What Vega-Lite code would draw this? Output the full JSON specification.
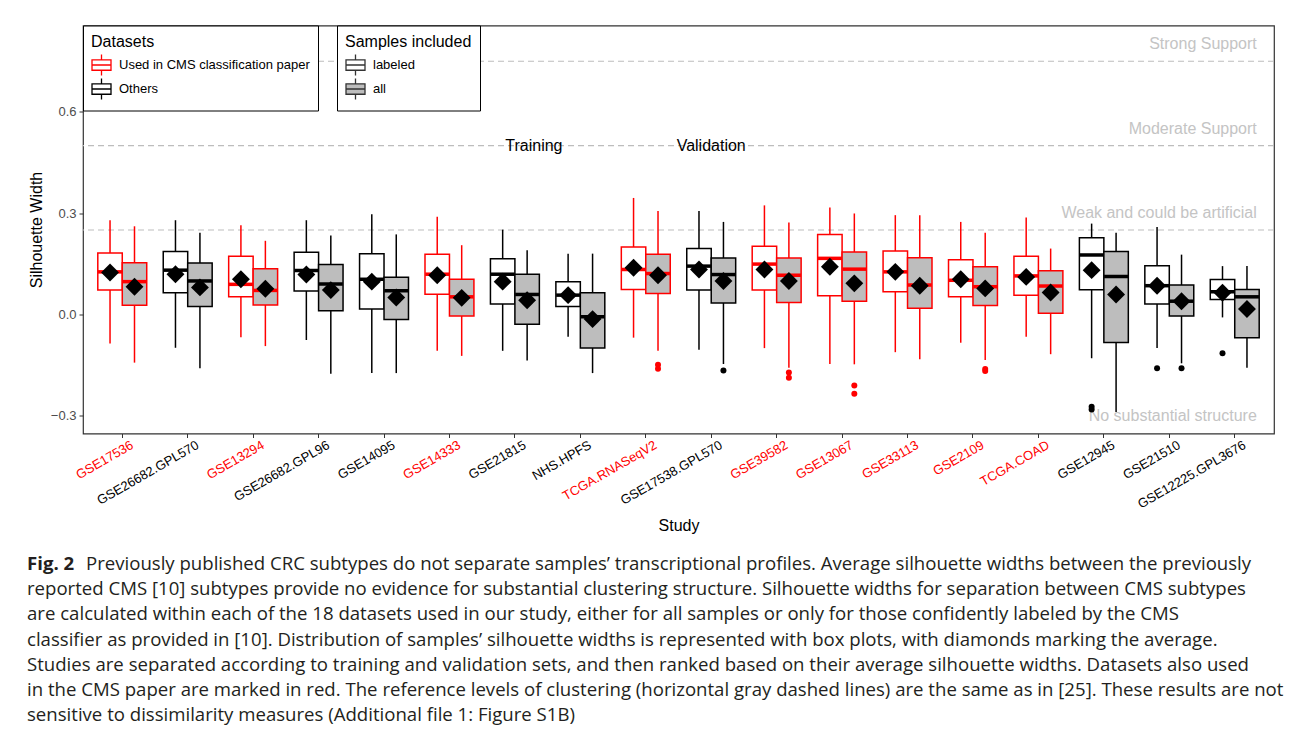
{
  "$schema": "https://vega.github.io/schema/vega-lite/v6.json",
  "padding": {"left": 27, "top": 23.5, "right": 0, "bottom": 0},
  "spacing": 17,
  "background": "white",
  "config": {
    "font": "Liberation Sans",
    "view": {"stroke": "#333333", "strokeWidth": 1.2},
    "axis": {"grid": false, "domain": false, "tickColor": "#333333", "tickSize": 4, "titleFontWeight": "normal", "titleFontSize": 16, "titleColor": "black", "labelFont": "Liberation Sans", "titleFont": "Liberation Sans"},
    "legend": {"titleFontWeight": "normal", "titleFont": "Liberation Sans", "labelFont": "Liberation Sans"}
  },
  "datasets": {
    "stats": [
      {"study": "GSE17536", "samples": "labeled", "cms": "Used in CMS classification paper", "lower": -0.086, "q1": 0.072, "median": 0.126, "q3": 0.182, "upper": 0.279, "mean": 0.124},
      {"study": "GSE17536", "samples": "all", "cms": "Used in CMS classification paper", "lower": -0.143, "q1": 0.027, "median": 0.097, "q3": 0.153, "upper": 0.261, "mean": 0.082},
      {"study": "GSE26682.GPL570", "samples": "labeled", "cms": "Others", "lower": -0.099, "q1": 0.064, "median": 0.131, "q3": 0.186, "upper": 0.279, "mean": 0.119},
      {"study": "GSE26682.GPL570", "samples": "all", "cms": "Others", "lower": -0.160, "q1": 0.023, "median": 0.099, "q3": 0.152, "upper": 0.242, "mean": 0.080},
      {"study": "GSE13294", "samples": "labeled", "cms": "Used in CMS classification paper", "lower": -0.068, "q1": 0.052, "median": 0.089, "q3": 0.172, "upper": 0.264, "mean": 0.104},
      {"study": "GSE13294", "samples": "all", "cms": "Used in CMS classification paper", "lower": -0.094, "q1": 0.028, "median": 0.071, "q3": 0.135, "upper": 0.218, "mean": 0.076},
      {"study": "GSE26682.GPL96", "samples": "labeled", "cms": "Others", "lower": -0.076, "q1": 0.069, "median": 0.130, "q3": 0.184, "upper": 0.279, "mean": 0.118},
      {"study": "GSE26682.GPL96", "samples": "all", "cms": "Others", "lower": -0.176, "q1": 0.011, "median": 0.090, "q3": 0.148, "upper": 0.234, "mean": 0.072},
      {"study": "GSE14095", "samples": "labeled", "cms": "Others", "lower": -0.174, "q1": 0.016, "median": 0.104, "q3": 0.180, "upper": 0.297, "mean": 0.097},
      {"study": "GSE14095", "samples": "all", "cms": "Others", "lower": -0.174, "q1": -0.015, "median": 0.070, "q3": 0.110, "upper": 0.237, "mean": 0.050},
      {"study": "GSE14333", "samples": "labeled", "cms": "Used in CMS classification paper", "lower": -0.108, "q1": 0.060, "median": 0.119, "q3": 0.178, "upper": 0.289, "mean": 0.116},
      {"study": "GSE14333", "samples": "all", "cms": "Used in CMS classification paper", "lower": -0.123, "q1": -0.005, "median": 0.052, "q3": 0.104, "upper": 0.205, "mean": 0.049},
      {"study": "GSE21815", "samples": "labeled", "cms": "Others", "lower": -0.108, "q1": 0.031, "median": 0.119, "q3": 0.165, "upper": 0.251, "mean": 0.097},
      {"study": "GSE21815", "samples": "all", "cms": "Others", "lower": -0.137, "q1": -0.029, "median": 0.059, "q3": 0.119, "upper": 0.190, "mean": 0.042},
      {"study": "NHS.HPFS", "samples": "labeled", "cms": "Others", "lower": -0.066, "q1": 0.023, "median": 0.057, "q3": 0.097, "upper": 0.180, "mean": 0.057},
      {"study": "NHS.HPFS", "samples": "all", "cms": "Others", "lower": -0.174, "q1": -0.100, "median": -0.007, "q3": 0.064, "upper": 0.180, "mean": -0.014},
      {"study": "TCGA.RNASeqV2", "samples": "labeled", "cms": "Used in CMS classification paper", "lower": -0.069, "q1": 0.074, "median": 0.133, "q3": 0.200, "upper": 0.345, "mean": 0.138},
      {"study": "TCGA.RNASeqV2", "samples": "all", "cms": "Used in CMS classification paper", "lower": -0.108, "q1": 0.062, "median": 0.121, "q3": 0.178, "upper": 0.306, "mean": 0.116},
      {"study": "GSE17538.GPL570", "samples": "labeled", "cms": "Others", "lower": -0.105, "q1": 0.072, "median": 0.143, "q3": 0.195, "upper": 0.306, "mean": 0.133},
      {"study": "GSE17538.GPL570", "samples": "all", "cms": "Others", "lower": -0.147, "q1": 0.034, "median": 0.118, "q3": 0.167, "upper": 0.274, "mean": 0.099},
      {"study": "GSE39582", "samples": "labeled", "cms": "Used in CMS classification paper", "lower": -0.100, "q1": 0.072, "median": 0.149, "q3": 0.202, "upper": 0.323, "mean": 0.133},
      {"study": "GSE39582", "samples": "all", "cms": "Used in CMS classification paper", "lower": -0.158, "q1": 0.035, "median": 0.116, "q3": 0.167, "upper": 0.272, "mean": 0.099},
      {"study": "GSE13067", "samples": "labeled", "cms": "Used in CMS classification paper", "lower": -0.147, "q1": 0.055, "median": 0.166, "q3": 0.237, "upper": 0.317, "mean": 0.141},
      {"study": "GSE13067", "samples": "all", "cms": "Used in CMS classification paper", "lower": -0.148, "q1": 0.039, "median": 0.134, "q3": 0.185, "upper": 0.299, "mean": 0.092},
      {"study": "GSE33113", "samples": "labeled", "cms": "Used in CMS classification paper", "lower": -0.112, "q1": 0.067, "median": 0.126, "q3": 0.188, "upper": 0.294, "mean": 0.126},
      {"study": "GSE33113", "samples": "all", "cms": "Used in CMS classification paper", "lower": -0.133, "q1": 0.018, "median": 0.087, "q3": 0.168, "upper": 0.294, "mean": 0.085},
      {"study": "GSE2109", "samples": "labeled", "cms": "Used in CMS classification paper", "lower": -0.084, "q1": 0.052, "median": 0.101, "q3": 0.162, "upper": 0.274, "mean": 0.104},
      {"study": "GSE2109", "samples": "all", "cms": "Used in CMS classification paper", "lower": -0.135, "q1": 0.026, "median": 0.082, "q3": 0.141, "upper": 0.242, "mean": 0.077},
      {"study": "TCGA.COAD", "samples": "labeled", "cms": "Used in CMS classification paper", "lower": -0.066, "q1": 0.057, "median": 0.114, "q3": 0.172, "upper": 0.287, "mean": 0.111},
      {"study": "TCGA.COAD", "samples": "all", "cms": "Used in CMS classification paper", "lower": -0.118, "q1": 0.003, "median": 0.084, "q3": 0.129, "upper": 0.195, "mean": 0.065},
      {"study": "GSE12945", "samples": "labeled", "cms": "Others", "lower": -0.130, "q1": 0.073, "median": 0.176, "q3": 0.227, "upper": 0.269, "mean": 0.131},
      {"study": "GSE12945", "samples": "all", "cms": "Others", "lower": -0.289, "q1": -0.083, "median": 0.112, "q3": 0.186, "upper": 0.242, "mean": 0.059},
      {"study": "GSE21510", "samples": "labeled", "cms": "Others", "lower": -0.100, "q1": 0.031, "median": 0.085, "q3": 0.144, "upper": 0.259, "mean": 0.085},
      {"study": "GSE21510", "samples": "all", "cms": "Others", "lower": -0.145, "q1": -0.005, "median": 0.039, "q3": 0.087, "upper": 0.177, "mean": 0.039},
      {"study": "GSE12225.GPL3676", "samples": "labeled", "cms": "Others", "lower": -0.009, "q1": 0.044, "median": 0.067, "q3": 0.103, "upper": 0.143, "mean": 0.064},
      {"study": "GSE12225.GPL3676", "samples": "all", "cms": "Others", "lower": -0.158, "q1": -0.069, "median": 0.052, "q3": 0.074, "upper": 0.143, "mean": 0.016}
    ],
    "outliers": [
      {"study": "TCGA.RNASeqV2", "samples": "all", "cms": "Used in CMS classification paper", "value": -0.149},
      {"study": "TCGA.RNASeqV2", "samples": "all", "cms": "Used in CMS classification paper", "value": -0.161},
      {"study": "GSE17538.GPL570", "samples": "all", "cms": "Others", "value": -0.166},
      {"study": "GSE39582", "samples": "all", "cms": "Used in CMS classification paper", "value": -0.172},
      {"study": "GSE39582", "samples": "all", "cms": "Used in CMS classification paper", "value": -0.188},
      {"study": "GSE13067", "samples": "all", "cms": "Used in CMS classification paper", "value": -0.211},
      {"study": "GSE13067", "samples": "all", "cms": "Used in CMS classification paper", "value": -0.235},
      {"study": "GSE2109", "samples": "all", "cms": "Used in CMS classification paper", "value": -0.162},
      {"study": "GSE2109", "samples": "all", "cms": "Used in CMS classification paper", "value": -0.168},
      {"study": "GSE12945", "samples": "labeled", "cms": "Others", "value": -0.274},
      {"study": "GSE12945", "samples": "labeled", "cms": "Others", "value": -0.282},
      {"study": "GSE21510", "samples": "labeled", "cms": "Others", "value": -0.160},
      {"study": "GSE21510", "samples": "all", "cms": "Others", "value": -0.160},
      {"study": "GSE12225.GPL3676", "samples": "labeled", "cms": "Others", "value": -0.115}
    ],
    "refs": [
      {"level": 0.75, "label": "Strong Support", "labelY": 0.80},
      {"level": 0.5, "label": "Moderate Support", "labelY": 0.55},
      {"level": 0.25, "label": "Weak and could be artificial", "labelY": 0.30},
      {"level": null, "label": "No substantial structure", "labelY": -0.30}
    ],
    "annotations": [
      {"label": "Training", "study": "GSE21815", "y": 0.5},
      {"label": "Validation", "study": "GSE17538.GPL570", "y": 0.5}
    ],
    "caption": [
      {"line": 1, "lead": "Fig. 2", "text": "Previously published CRC subtypes do not separate samples’ transcriptional profiles. Average silhouette widths between the previously"},
      {"line": 2, "lead": "", "text": "reported CMS [10] subtypes provide no evidence for substantial clustering structure. Silhouette widths for separation between CMS subtypes"},
      {"line": 3, "lead": "", "text": "are calculated within each of the 18 datasets used in our study, either for all samples or only for those confidently labeled by the CMS"},
      {"line": 4, "lead": "", "text": "classifier as provided in [10]. Distribution of samples’ silhouette widths is represented with box plots, with diamonds marking the average."},
      {"line": 5, "lead": "", "text": "Studies are separated according to training and validation sets, and then ranked based on their average silhouette widths. Datasets also used"},
      {"line": 6, "lead": "", "text": "in the CMS paper are marked in red. The reference levels of clustering (horizontal gray dashed lines) are the same as in [25]. These results are not"},
      {"line": 7, "lead": "", "text": "sensitive to dissimilarity measures (Additional file 1: Figure S1B)"}
    ]
  },
  "vconcat": [
    {
      "width": 1191,
      "height": 408,
      "resolve": {"legend": {"stroke": "independent"}},
      "layer": [
        {
          "data": {"name": "refs"},
          "transform": [{"filter": "datum.level != null"}],
          "mark": {"type": "rule", "color": "#bdbdbd", "strokeDash": [6, 4], "strokeWidth": 1.2},
          "encoding": {
            "y": {"field": "level", "type": "quantitative", "scale": {"domain": [-0.353, 0.856], "nice": false, "zero": false}}
          }
        },
        {
          "data": {"name": "refs"},
          "mark": {"type": "text", "align": "right", "baseline": "middle", "fontSize": 16, "color": "#c4c4c4", "font": "Liberation Sans"},
          "encoding": {
            "x": {"datum": "GSE12225.GPL3676", "type": "nominal", "bandPosition": 0.837},
            "y": {"field": "labelY", "type": "quantitative"},
            "text": {"field": "label"}
          }
        },
        {
          "mark": {"type": "rule", "color": "#222222", "strokeWidth": 1.3},
          "encoding": {
            "x": {"datum": "NHS.HPFS", "type": "nominal", "bandPosition": 1}
          }
        },
        {
          "data": {"name": "stats"},
          "mark": {"type": "rule", "strokeWidth": 1.5, "opacity": 1},
          "encoding": {
            "x": {"field": "study", "type": "nominal", "sort": null,
              "scale": {"domain": ["GSE17536", "GSE26682.GPL570", "GSE13294", "GSE26682.GPL96", "GSE14095", "GSE14333", "GSE21815", "NHS.HPFS", "TCGA.RNASeqV2", "GSE17538.GPL570", "GSE39582", "GSE13067", "GSE33113", "GSE2109", "TCGA.COAD", "GSE12945", "GSE21510", "GSE12225.GPL3676"], "paddingInner": 0, "paddingOuter": 0.1},
              "axis": {
                "title": "Study", "labelAngle": -30, "labelAlign": "right", "labelBaseline": "top",
                "labelFontSize": 13, "labelPadding": 1, "labelOffset": 7, "titlePadding": 7,
                "labelColor": {"condition": {"test": "indexof(['GSE17536','GSE13294','GSE14333','TCGA.RNASeqV2','GSE39582','GSE13067','GSE33113','GSE2109','TCGA.COAD'], datum.value) >= 0", "value": "#ff0000"}, "value": "black"}
              }
            },
            "xOffset": {"field": "samples", "type": "nominal", "scale": {"domain": ["labeled", "all"], "paddingInner": 0, "paddingOuter": 0.3375}},
            "y": {"field": "lower", "type": "quantitative",
              "axis": {"title": "Silhouette Width", "values": [-0.3, 0, 0.3, 0.6], "format": ".1f", "labelColor": "#4d4d4d", "labelFontSize": 13, "labelPadding": 3, "titlePadding": 6}},
            "y2": {"field": "upper"},
            "stroke": {"field": "cms", "type": "nominal", "scale": {"domain": ["Used in CMS classification paper", "Others"], "range": ["#ff0000", "#000000"]}, "legend": null}
          }
        },
        {
          "data": {"name": "stats"},
          "mark": {"type": "bar", "strokeWidth": 1.5, "opacity": 1},
          "encoding": {
            "x": {"field": "study", "type": "nominal", "sort": null},
            "xOffset": {"field": "samples", "type": "nominal"},
            "y": {"field": "q1", "type": "quantitative"},
            "y2": {"field": "q3"},
            "fill": {"field": "samples", "type": "nominal",
              "scale": {"domain": ["labeled", "all"], "range": ["#ffffff", "#bdbdbd"]},
              "legend": {"title": "Samples included", "orient": "none", "legendX": 254, "legendY": 0,
                "symbolType": "M-1,-0.55L1,-0.55L1,0.55L-1,0.55Z M-1,0L1,0 M0,-0.55L0,-1.1 M0,0.55L0,1.1",
                "symbolSize": 361, "symbolStrokeColor": "#333333", "symbolStrokeWidth": 1.3,
                "strokeColor": "black", "fillColor": "white", "padding": 8,
                "titleFontSize": 16, "titleColor": "black", "labelFontSize": 13, "labelColor": "black", "rowPadding": -3, "labelOffset": 7, "titlePadding": 5}},
            "stroke": {"field": "cms", "type": "nominal",
              "legend": {"title": "Datasets", "orient": "none", "legendX": 0, "legendY": 0,
                "symbolType": "M-1,-0.55L1,-0.55L1,0.55L-1,0.55Z M-1,0L1,0 M0,-0.55L0,-1.1 M0,0.55L0,1.1",
                "symbolSize": 361, "symbolFillColor": "white", "symbolStrokeWidth": 1.3, "labelLimit": 400,
                "strokeColor": "black", "fillColor": "white", "padding": 8,
                "titleFontSize": 16, "titleColor": "black", "labelFontSize": 13, "labelColor": "black", "rowPadding": -3, "labelOffset": 7, "titlePadding": 5}}
          }
        },
        {
          "data": {"name": "stats"},
          "mark": {"type": "tick", "thickness": 3.5, "size": 24, "opacity": 1, "orient": "horizontal"},
          "encoding": {
            "x": {"field": "study", "type": "nominal", "sort": null},
            "xOffset": {"field": "samples", "type": "nominal"},
            "y": {"field": "median", "type": "quantitative"},
            "color": {"field": "cms", "type": "nominal", "scale": {"domain": ["Used in CMS classification paper", "Others"], "range": ["#ff0000", "#000000"]}, "legend": null}
          }
        },
        {
          "data": {"name": "outliers"},
          "mark": {"type": "point", "shape": "circle", "filled": true, "size": 36, "opacity": 1},
          "encoding": {
            "x": {"field": "study", "type": "nominal", "sort": null},
            "xOffset": {"field": "samples", "type": "nominal"},
            "y": {"field": "value", "type": "quantitative"},
            "color": {"field": "cms", "type": "nominal", "legend": null}
          }
        },
        {
          "data": {"name": "stats"},
          "mark": {"type": "point", "shape": "diamond", "filled": true, "size": 320, "color": "black", "opacity": 1},
          "encoding": {
            "x": {"field": "study", "type": "nominal", "sort": null},
            "xOffset": {"field": "samples", "type": "nominal"},
            "y": {"field": "mean", "type": "quantitative"}
          }
        },
        {
          "data": {"name": "annotations"},
          "transform": [{"filter": "datum.label == 'Training'"}],
          "mark": {"type": "text", "align": "center", "baseline": "middle", "fontSize": 16, "color": "black", "font": "Liberation Sans"},
          "encoding": {
            "x": {"field": "study", "type": "nominal", "bandPosition": 0.79},
            "y": {"field": "y", "type": "quantitative"},
            "text": {"field": "label"}
          }
        },
        {
          "data": {"name": "annotations"},
          "transform": [{"filter": "datum.label == 'Validation'"}],
          "mark": {"type": "text", "align": "center", "baseline": "middle", "fontSize": 16, "color": "black", "font": "Liberation Sans"},
          "encoding": {
            "x": {"field": "study", "type": "nominal", "bandPosition": 0.5},
            "y": {"field": "y", "type": "quantitative"},
            "text": {"field": "label"}
          }
        }
      ]
    },
    {
      "width": 1191,
      "height": 176,
      "view": {"stroke": null},
      "data": {"name": "caption"},
      "encoding": {
        "x": {"datum": 0, "type": "quantitative", "scale": {"domain": [0, 1]}, "axis": null},
        "y": {"field": "line", "type": "quantitative", "scale": {"domain": [0.5, 7.5], "reverse": true}, "axis": null}
      },
      "layer": [
        {
          "transform": [{"filter": "datum.lead != ''"}],
          "mark": {"type": "text", "align": "left", "baseline": "middle", "font": "Open Sans", "fontSize": 18.6, "fontWeight": "bold", "color": "#231f20", "dx": -56},
          "encoding": {"text": {"field": "lead"}}
        },
        {
          "transform": [{"filter": "datum.line == 1"}],
          "mark": {"type": "text", "align": "left", "baseline": "middle", "font": "Open Sans", "fontSize": 18.6, "color": "#231f20", "dx": 3},
          "encoding": {"text": {"field": "text"}}
        },
        {
          "transform": [{"filter": "datum.line > 1"}],
          "mark": {"type": "text", "align": "left", "baseline": "middle", "font": "Open Sans", "fontSize": 18.6, "color": "#231f20", "dx": -56},
          "encoding": {"text": {"field": "text"}}
        }
      ]
    }
  ]
}
